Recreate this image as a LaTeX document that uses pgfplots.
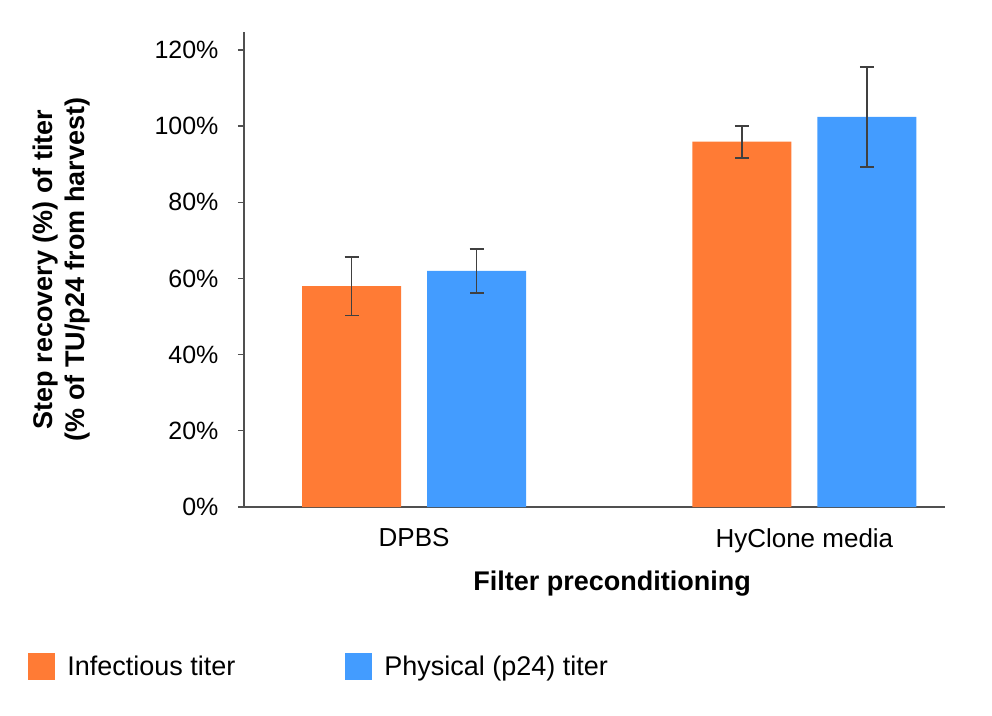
\documentclass[border=0pt]{standalone}
\usepackage{fontspec}
\setmainfont{Liberation Sans}
\usepackage{pgfplots}
\pgfplotsset{compat=1.18}
\definecolor{orng}{RGB}{255,123,53}
\definecolor{blu}{RGB}{67,156,255}
\definecolor{axgray}{RGB}{80,80,80}
\definecolor{errgray}{RGB}{64,64,64}
\begin{document}
\begin{tikzpicture}
\begin{axis}[
  name=ax,
  scale only axis, width=701pt, height=475pt,
  xmin=-0.4359, xmax=1.3603, ymin=0, ymax=124.7,
  ybar=26pt, bar width=99pt,
  axis x line*=bottom, axis y line*=left,
  axis line style={draw=axgray, line width=1.3pt},
  xtick={0,1}, xticklabels={DPBS, HyClone media},
  x tick style={draw=none},
  ytick={0,20,40,60,80,100,120},
  yticklabel={\pgfmathprintnumber{\tick}\%},
  y tick style={draw=axgray, line width=1.3pt},
  tick align=outside, major tick length=6pt,
  /pgf/number format/assume math mode=true,
  ticklabel style={font=\fontsize{25}{30}\selectfont, text=black},
  xticklabel style={font=\fontsize{26}{30}\selectfont, yshift=-12pt},
  yticklabel style={xshift=-16pt},
  xlabel={\textbf{Filter preconditioning}},
  xlabel style={at={(axis description cs:0.525,-0.162)}, anchor=center, font=\fontsize{27}{32}\selectfont},
  ylabel={\textbf{Step recovery (\%) of titer}\\\textbf{(\% of TU/p24 from harvest)}},
  ylabel style={at={(axis description cs:-0.2596,0.5)}, anchor=center, align=center, font=\fontsize{27}{32}\selectfont},
  legend columns=2,
  legend style={at={(axis description cs:-0.308,-0.335)}, anchor=west, draw=none, fill=none, inner sep=0pt,
    font=\fontsize{27}{32}\selectfont,
    nodes={inner xsep=12pt},
    /tikz/every even column/.append style={column sep=98pt}},
  legend cell align=left,
  error bars/y dir=both, error bars/y explicit,
  error bars/error bar style={line width=1.7pt, draw=errgray},
  error bars/error mark options={rotate=90, mark size=7pt, line width=1.7pt, draw=errgray},
  clip=false,
]
\addplot[fill=orng, draw=none, legend image code/.code={\fill[orng] (0pt,-13.5pt) rectangle (27pt,13.5pt);}]
  coordinates {(0,58.0) +- (0,7.7) (1,95.9) +- (0,4.2)};
\addlegendentry{Infectious titer}
\addplot[fill=blu, draw=none, legend image code/.code={\fill[blu] (0pt,-13.5pt) rectangle (27pt,13.5pt);}]
  coordinates {(0,62.0) +- (0,5.8) (1,102.4) +- (0,13.05)};
\addlegendentry{Physical (p24) titer}
\end{axis}
\pgfresetboundingbox
\path ([shift={(-244pt,-208pt)}]ax.south west) rectangle ([shift={(748pt,507pt)}]ax.south west);
\end{tikzpicture}
\end{document}
